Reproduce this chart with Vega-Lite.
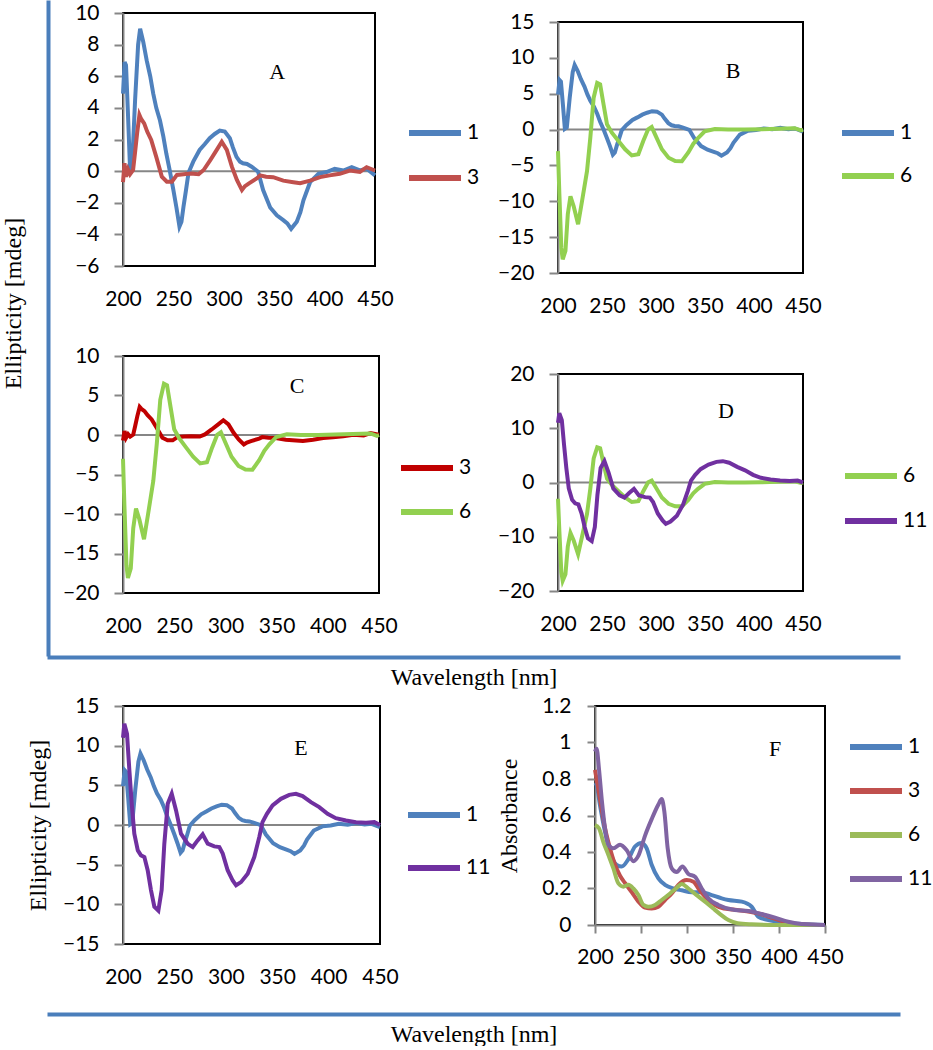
{
"$schema": "https://vega.github.io/schema/vega-lite/v6.json",
"padding": 0,
"background": "white",
"datasets": {
"cd": [
{"c":"1","w":200,"v":4.9},{"c":"1","w":201.6,"v":6.9},{"c":"1","w":203,"v":6.7},{"c":"1","w":205,"v":3.5},{"c":"1","w":207,"v":0.1},{"c":"1","w":209,"v":0.3},{"c":"1","w":212,"v":4.5},{"c":"1","w":215,"v":8.0},{"c":"1","w":217,"v":9.0},{"c":"1","w":220,"v":8.2},{"c":"1","w":223.5,"v":7.0},{"c":"1","w":227,"v":6.0},{"c":"1","w":230,"v":4.9},{"c":"1","w":233,"v":4.0},{"c":"1","w":236.7,"v":3.2},{"c":"1","w":240,"v":2.2},{"c":"1","w":243,"v":1.1},{"c":"1","w":246.5,"v":0.0},{"c":"1","w":250,"v":-1.2},{"c":"1","w":253,"v":-2.3},{"c":"1","w":256,"v":-3.5},{"c":"1","w":258,"v":-3.2},{"c":"1","w":260,"v":-2.25},{"c":"1","w":262.5,"v":-1.2},{"c":"1","w":265,"v":-0.1},{"c":"1","w":269.7,"v":0.6},{"c":"1","w":276,"v":1.34},{"c":"1","w":281,"v":1.7},{"c":"1","w":286,"v":2.08},{"c":"1","w":291,"v":2.35},{"c":"1","w":296,"v":2.56},{"c":"1","w":301,"v":2.5},{"c":"1","w":306,"v":2.08},{"c":"1","w":309,"v":1.5},{"c":"1","w":312.6,"v":0.9},{"c":"1","w":316,"v":0.6},{"c":"1","w":319,"v":0.5},{"c":"1","w":323,"v":0.45},{"c":"1","w":327.6,"v":0.28},{"c":"1","w":334,"v":-0.03},{"c":"1","w":339,"v":-1.2},{"c":"1","w":346,"v":-2.3},{"c":"1","w":352.6,"v":-2.8},{"c":"1","w":359,"v":-3.1},{"c":"1","w":363,"v":-3.3},{"c":"1","w":366.8,"v":-3.65},{"c":"1","w":372.4,"v":-3.2},{"c":"1","w":376,"v":-2.6},{"c":"1","w":379,"v":-1.85},{"c":"1","w":385.6,"v":-0.7},{"c":"1","w":393.9,"v":-0.17},{"c":"1","w":402,"v":-0.06},{"c":"1","w":410,"v":0.15},{"c":"1","w":418.6,"v":0.04},{"c":"1","w":426.9,"v":0.25},{"c":"1","w":435,"v":0.05},{"c":"1","w":441.7,"v":0.15},{"c":"1","w":450,"v":-0.27},
{"c":"3","w":200,"v":-0.7},{"c":"3","w":201.5,"v":0.5},{"c":"3","w":203,"v":-0.35},{"c":"3","w":205,"v":0.1},{"c":"3","w":207,"v":-0.2},{"c":"3","w":210,"v":0.07},{"c":"3","w":212,"v":1.2},{"c":"3","w":214,"v":2.39},{"c":"3","w":216.3,"v":3.55},{"c":"3","w":218,"v":3.3},{"c":"3","w":221,"v":3.02},{"c":"3","w":224,"v":2.5},{"c":"3","w":228,"v":1.97},{"c":"3","w":233,"v":0.9},{"c":"3","w":238.5,"v":-0.35},{"c":"3","w":243.5,"v":-0.67},{"c":"3","w":248.5,"v":-0.67},{"c":"3","w":253.5,"v":-0.24},{"c":"3","w":260,"v":-0.2},{"c":"3","w":266.7,"v":-0.15},{"c":"3","w":275,"v":-0.2},{"c":"3","w":280,"v":0.07},{"c":"3","w":286.6,"v":0.7},{"c":"3","w":293,"v":1.34},{"c":"3","w":298,"v":1.86},{"c":"3","w":303,"v":1.34},{"c":"3","w":308,"v":0.28},{"c":"3","w":313,"v":-0.56},{"c":"3","w":318,"v":-1.2},{"c":"3","w":321,"v":-0.95},{"c":"3","w":325,"v":-0.77},{"c":"3","w":333,"v":-0.45},{"c":"3","w":336,"v":-0.27},{"c":"3","w":342,"v":-0.35},{"c":"3","w":349,"v":-0.38},{"c":"3","w":359,"v":-0.6},{"c":"3","w":369,"v":-0.7},{"c":"3","w":375.7,"v":-0.76},{"c":"3","w":385.6,"v":-0.6},{"c":"3","w":395.5,"v":-0.38},{"c":"3","w":405,"v":-0.27},{"c":"3","w":415,"v":-0.17},{"c":"3","w":425,"v":0.04},{"c":"3","w":435,"v":-0.05},{"c":"3","w":441.7,"v":0.25},{"c":"3","w":450,"v":0.04},
{"c":"6","w":200,"v":-3.0},{"c":"6","w":201.4,"v":-9.0},{"c":"6","w":203.4,"v":-16.5},{"c":"6","w":204.8,"v":-18.1},{"c":"6","w":207.6,"v":-16.9},{"c":"6","w":210,"v":-11.8},{"c":"6","w":212.7,"v":-9.3},{"c":"6","w":216,"v":-10.7},{"c":"6","w":220.5,"v":-13.2},{"c":"6","w":224.5,"v":-10.0},{"c":"6","w":229.6,"v":-5.8},{"c":"6","w":233,"v":-1.1},{"c":"6","w":236.4,"v":4.45},{"c":"6","w":240,"v":6.5},{"c":"6","w":243,"v":6.3},{"c":"6","w":246.5,"v":3.5},{"c":"6","w":250,"v":0.73},{"c":"6","w":255,"v":-0.44},{"c":"6","w":261.7,"v":-1.6},{"c":"6","w":268.5,"v":-2.75},{"c":"6","w":275.3,"v":-3.6},{"c":"6","w":282,"v":-3.45},{"c":"6","w":287,"v":-1.6},{"c":"6","w":292,"v":0.04},{"c":"6","w":295.6,"v":0.36},{"c":"6","w":299,"v":-0.66},{"c":"6","w":306,"v":-2.75},{"c":"6","w":312.8,"v":-3.92},{"c":"6","w":319.6,"v":-4.38},{"c":"6","w":326.4,"v":-4.4},{"c":"6","w":333,"v":-3.2},{"c":"6","w":338,"v":-2.0},{"c":"6","w":342.9,"v":-1.18},{"c":"6","w":349.7,"v":-0.25},{"c":"6","w":360,"v":0.08},{"c":"6","w":373.5,"v":0.0},{"c":"6","w":390.5,"v":0.0},{"c":"6","w":407.5,"v":0.05},{"c":"6","w":424.5,"v":0.12},{"c":"6","w":441.5,"v":0.2},{"c":"6","w":448,"v":-0.1},{"c":"6","w":450,"v":0.0},
{"c":"11","w":200,"v":11.0},{"c":"11","w":201.3,"v":12.77},{"c":"11","w":203.9,"v":11.5},{"c":"11","w":206.2,"v":6.88},{"c":"11","w":208.5,"v":2.68},{"c":"11","w":211,"v":-1.1},{"c":"11","w":214.4,"v":-3.2},{"c":"11","w":217.5,"v":-3.83},{"c":"11","w":220.8,"v":-4.04},{"c":"11","w":224,"v":-5.7},{"c":"11","w":227.2,"v":-8.2},{"c":"11","w":230.5,"v":-10.3},{"c":"11","w":234.4,"v":-10.8},{"c":"11","w":237.6,"v":-8.2},{"c":"11","w":240.2,"v":-2.36},{"c":"11","w":243.5,"v":2.68},{"c":"11","w":247.4,"v":3.95},{"c":"11","w":251.6,"v":1.84},{"c":"11","w":256.4,"v":-1.1},{"c":"11","w":262.9,"v":-2.36},{"c":"11","w":267.8,"v":-2.78},{"c":"11","w":272.6,"v":-1.94},{"c":"11","w":277.5,"v":-1.18},{"c":"11","w":282.4,"v":-2.36},{"c":"11","w":288.8,"v":-2.7},{"c":"11","w":293.7,"v":-2.78},{"c":"11","w":297,"v":-3.6},{"c":"11","w":301.8,"v":-5.7},{"c":"11","w":306.7,"v":-7.0},{"c":"11","w":310,"v":-7.6},{"c":"11","w":314.8,"v":-7.2},{"c":"11","w":321.3,"v":-6.14},{"c":"11","w":327.7,"v":-4.04},{"c":"11","w":332.6,"v":-1.5},{"c":"11","w":335.7,"v":0.36},{"c":"11","w":340,"v":1.4},{"c":"11","w":345.5,"v":2.46},{"c":"11","w":353.6,"v":3.3},{"c":"11","w":361.7,"v":3.8},{"c":"11","w":368.2,"v":3.93},{"c":"11","w":374.7,"v":3.64},{"c":"11","w":382.8,"v":2.88},{"c":"11","w":390.9,"v":2.25},{"c":"11","w":399,"v":1.41},{"c":"11","w":407,"v":0.86},{"c":"11","w":416.9,"v":0.57},{"c":"11","w":426.6,"v":0.36},{"c":"11","w":436.4,"v":0.27},{"c":"11","w":444.5,"v":0.36},{"c":"11","w":450,"v":0.0}
],
"ab": [
{"c":"1","w":200,"a":0.78},{"c":"1","w":201.8,"a":0.766},{"c":"1","w":205.4,"a":0.657},{"c":"1","w":210.9,"a":0.51},{"c":"1","w":216.3,"a":0.40},{"c":"1","w":223.5,"a":0.33},{"c":"1","w":229,"a":0.32},{"c":"1","w":236.2,"a":0.36},{"c":"1","w":243.5,"a":0.43},{"c":"1","w":250.7,"a":0.45},{"c":"1","w":256.2,"a":0.42},{"c":"1","w":261.6,"a":0.33},{"c":"1","w":268.9,"a":0.255},{"c":"1","w":276.1,"a":0.22},{"c":"1","w":285.2,"a":0.20},{"c":"1","w":294.2,"a":0.19},{"c":"1","w":305.1,"a":0.18},{"c":"1","w":316,"a":0.18},{"c":"1","w":326.8,"a":0.164},{"c":"1","w":337.7,"a":0.146},{"c":"1","w":345,"a":0.137},{"c":"1","w":359.5,"a":0.128},{"c":"1","w":370.3,"a":0.10},{"c":"1","w":377.6,"a":0.045},{"c":"1","w":388.5,"a":0.027},{"c":"1","w":406.5,"a":0.014},{"c":"1","w":424.7,"a":0.005},{"c":"1","w":450,"a":0.0},
{"c":"3","w":200,"a":0.85},{"c":"3","w":205.4,"a":0.69},{"c":"3","w":210.9,"a":0.53},{"c":"3","w":216.3,"a":0.42},{"c":"3","w":221.8,"a":0.33},{"c":"3","w":227.2,"a":0.27},{"c":"3","w":232.6,"a":0.23},{"c":"3","w":239.9,"a":0.18},{"c":"3","w":247.2,"a":0.128},{"c":"3","w":254.4,"a":0.095},{"c":"3","w":261.6,"a":0.09},{"c":"3","w":268.9,"a":0.10},{"c":"3","w":276.1,"a":0.137},{"c":"3","w":283.4,"a":0.173},{"c":"3","w":290.6,"a":0.22},{"c":"3","w":299.7,"a":0.246},{"c":"3","w":307,"a":0.237},{"c":"3","w":312.4,"a":0.20},{"c":"3","w":321.4,"a":0.146},{"c":"3","w":330.5,"a":0.11},{"c":"3","w":340,"a":0.09},{"c":"3","w":350,"a":0.085},{"c":"3","w":365,"a":0.075},{"c":"3","w":380,"a":0.06},{"c":"3","w":395,"a":0.035},{"c":"3","w":410,"a":0.012},{"c":"3","w":425,"a":0.003},{"c":"3","w":450,"a":0.0},
{"c":"6","w":200,"a":0.547},{"c":"6","w":204.3,"a":0.53},{"c":"6","w":209,"a":0.456},{"c":"6","w":214.6,"a":0.383},{"c":"6","w":220,"a":0.31},{"c":"6","w":225.4,"a":0.228},{"c":"6","w":230.9,"a":0.21},{"c":"6","w":236.3,"a":0.22},{"c":"6","w":241.7,"a":0.2},{"c":"6","w":247.2,"a":0.164},{"c":"6","w":252.6,"a":0.11},{"c":"6","w":258,"a":0.10},{"c":"6","w":265.3,"a":0.11},{"c":"6","w":272.5,"a":0.137},{"c":"6","w":281.6,"a":0.173},{"c":"6","w":288.8,"a":0.204},{"c":"6","w":294.2,"a":0.225},{"c":"6","w":301.5,"a":0.2},{"c":"6","w":310.5,"a":0.164},{"c":"6","w":319.6,"a":0.128},{"c":"6","w":328.6,"a":0.09},{"c":"6","w":335.9,"a":0.06},{"c":"6","w":345,"a":0.027},{"c":"6","w":355,"a":0.01},{"c":"6","w":370,"a":0.004},{"c":"6","w":400,"a":0.0},{"c":"6","w":450,"a":0.0},
{"c":"11","w":200,"a":0.95},{"c":"11","w":201.8,"a":0.966},{"c":"11","w":204.3,"a":0.857},{"c":"11","w":207.3,"a":0.69},{"c":"11","w":210.9,"a":0.53},{"c":"11","w":214.6,"a":0.44},{"c":"11","w":220,"a":0.42},{"c":"11","w":227.2,"a":0.44},{"c":"11","w":234.5,"a":0.41},{"c":"11","w":241.7,"a":0.35},{"c":"11","w":247.2,"a":0.38},{"c":"11","w":254.4,"a":0.49},{"c":"11","w":261.6,"a":0.58},{"c":"11","w":268.9,"a":0.66},{"c":"11","w":272.5,"a":0.69},{"c":"11","w":275.4,"a":0.62},{"c":"11","w":279,"a":0.42},{"c":"11","w":283.4,"a":0.31},{"c":"11","w":288.8,"a":0.29},{"c":"11","w":295,"a":0.32},{"c":"11","w":301.5,"a":0.28},{"c":"11","w":308.7,"a":0.264},{"c":"11","w":316,"a":0.2},{"c":"11","w":323.2,"a":0.146},{"c":"11","w":334,"a":0.11},{"c":"11","w":352,"a":0.082},{"c":"11","w":366.7,"a":0.077},{"c":"11","w":381,"a":0.06},{"c":"11","w":395.7,"a":0.04},{"c":"11","w":410,"a":0.018},{"c":"11","w":424.6,"a":0.005},{"c":"11","w":450,"a":0.0}
]
},
"config": {
"view": {"stroke": null},
"axis": {"grid": false, "labelFont": "Lato", "labelFontSize": 21, "labelColor": "#000000", "labelFlush": false, "labelOverlap": false, "labelBound": false, "titleFont": "Liberation Serif", "titleFontSize": 24, "titleFontWeight": "normal", "titleColor": "#000000"},
"legend": {"symbolType": "stroke", "symbolSize": 2704, "symbolStrokeWidth": 6, "labelFont": "Lato", "labelFontSize": 21, "labelColor": "#000000", "padding": 0}
},
"columns": 1,
"align": "none",
"spacing": 0,
"resolve": {"scale": {"color": "independent"}, "legend": {"color": "independent"}},
"concat": [
{
"columns": 3, "align": "none", "spacing": 0,
"resolve": {"scale": {"color": "independent"}, "legend": {"color": "independent"}},
"concat": [
{"width": 1, "height": 1, "data": {"values": []}, "mark": {"type": "rule"}, "encoding": {}},
{"width": 13, "height": 656, "data": {"values": []}, "mark": {"type": "rule"},
 "encoding": {"y": {"field": "a", "type": "quantitative", "scale": {"domain": [0, 1]}, "axis": {"title": "Ellipticity [mdeg]", "labels": false, "ticks": false, "tickSize": 0, "domainColor": "#4A7EBB", "domainWidth": 4, "titlePadding": 23, "titleY": 303}}}},
{
"columns": 2, "align": {"row": "none", "column": "each"}, "spacing": {"row": 0, "column": 15},
"resolve": {"scale": {"color": "independent"}, "legend": {"color": "independent"}},
"concat": [
{"width": 1, "height": 1, "data": {"values": []}, "mark": {"type": "rule"}, "encoding": {}},
{"width": 1, "height": 1, "data": {"values": []}, "mark": {"type": "rule"}, "encoding": {}},
{"width": 252, "height": 253, "view": {"stroke": "#000000", "strokeWidth": 2},
 "layer": [
  {"data": {"values": [{}]}, "mark": {"type": "rule", "color": "#868686", "strokeWidth": 2}, "encoding": {"y": {"datum": 0, "type": "quantitative"}}},
  {"data": {"name": "cd"}, "transform": [{"filter": {"field": "c", "oneOf": ["1", "3"]}}],
   "mark": {"type": "line", "strokeWidth": 4},
   "encoding": {
    "x": {"field": "w", "type": "quantitative", "scale": {"domain": [200, 450], "nice": false}, "axis": {"values": [200, 250, 300, 350, 400, 450], "format": "d", "tickCount": 30, "labelOverlap": false, "title": null, "domain": false, "ticks": false, "tickSize": 0, "labelPadding": 22}},
    "y": {"field": "v", "type": "quantitative", "scale": {"domain": [-6, 10], "nice": false}, "axis": {"values": [-6, -4, -2, 0, 2, 4, 6, 8, 10], "format": "d", "tickCount": 30, "labelOverlap": false, "title": null, "domainColor": "#868686", "domainWidth": 2, "tickColor": "#868686", "tickWidth": 2, "tickSize": 9, "labelPadding": 15}},
    "color": {"field": "c", "type": "nominal", "scale": {"domain": ["1", "3"], "range": ["#4F81BD", "#C0504D"]}, "legend": {"title": null, "orient": "none", "legendX": 283, "legendY": 91, "rowPadding": 4, "labelOffset": 3}}
   }},
  {"data": {"values": [{}]}, "mark": {"type": "text", "font": "Liberation Serif", "fontSize": 22, "color": "#000000"}, "encoding": {"x": {"datum": 353}, "y": {"datum": 6.3}, "text": {"value": "A"}}}
 ]},
{"width": 245, "height": 251, "view": {"stroke": "#000000", "strokeWidth": 2},
 "title": {"text": ".", "color": "white", "fontSize": 10, "offset": -1},
 "layer": [
  {"data": {"values": [{}]}, "mark": {"type": "rule", "color": "#868686", "strokeWidth": 2}, "encoding": {"y": {"datum": 0, "type": "quantitative"}}},
  {"data": {"name": "cd"}, "transform": [{"filter": {"field": "c", "oneOf": ["1", "6"]}}],
   "mark": {"type": "line", "strokeWidth": 4},
   "encoding": {
    "x": {"field": "w", "type": "quantitative", "scale": {"domain": [200, 450], "nice": false}, "axis": {"values": [200, 250, 300, 350, 400, 450], "format": "d", "tickCount": 30, "labelOverlap": false, "title": null, "domain": false, "ticks": false, "tickSize": 0, "labelPadding": 22}},
    "y": {"field": "v", "type": "quantitative", "scale": {"domain": [-20, 15], "nice": false}, "axis": {"values": [-20, -15, -10, -5, 0, 5, 10, 15], "format": "d", "tickCount": 30, "labelOverlap": false, "title": null, "domainColor": "#868686", "domainWidth": 2, "tickColor": "#868686", "tickWidth": 2, "tickSize": 9, "labelPadding": 15}},
    "color": {"field": "c", "type": "nominal", "scale": {"domain": ["1", "6"], "range": ["#4F81BD", "#92D050"]}, "legend": {"title": null, "orient": "none", "legendX": 281, "legendY": 82, "rowPadding": 2, "labelOffset": 3}}
   }},
  {"data": {"values": [{}]}, "mark": {"type": "text", "font": "Liberation Serif", "fontSize": 22, "color": "#000000"}, "encoding": {"x": {"datum": 378.6}, "y": {"datum": 8.2}, "text": {"value": "B"}}}
 ]},
{"width": 256, "height": 237, "view": {"stroke": "#000000", "strokeWidth": 2},
 "title": {"text": ".", "color": "white", "fontSize": 10, "offset": 24},
 "layer": [
  {"data": {"values": [{}]}, "mark": {"type": "rule", "color": "#868686", "strokeWidth": 2}, "encoding": {"y": {"datum": 0, "type": "quantitative"}}},
  {"data": {"name": "cd"}, "transform": [{"filter": {"field": "c", "oneOf": ["3", "6"]}}],
   "mark": {"type": "line", "strokeWidth": 4},
   "encoding": {
    "x": {"field": "w", "type": "quantitative", "scale": {"domain": [200, 450], "nice": false}, "axis": {"values": [200, 250, 300, 350, 400, 450], "format": "d", "tickCount": 30, "labelOverlap": false, "title": null, "domain": false, "ticks": false, "tickSize": 0, "labelPadding": 22}},
    "y": {"field": "v", "type": "quantitative", "scale": {"domain": [-20, 10], "nice": false}, "axis": {"values": [-20, -15, -10, -5, 0, 5, 10], "format": "d", "tickCount": 30, "labelOverlap": false, "title": null, "domainColor": "#868686", "domainWidth": 2, "tickColor": "#868686", "tickWidth": 2, "tickSize": 9, "labelPadding": 15}},
    "color": {"field": "c", "type": "nominal", "scale": {"domain": ["3", "6"], "range": ["#C00000", "#92D050"]}, "legend": {"title": null, "orient": "none", "legendX": 275, "legendY": 83, "rowPadding": 3, "labelOffset": 3}}
   }},
  {"data": {"values": [{}]}, "mark": {"type": "text", "font": "Liberation Serif", "fontSize": 22, "color": "#000000"}, "encoding": {"x": {"datum": 370}, "y": {"datum": 6.2}, "text": {"value": "C"}}}
 ]},
{"width": 245, "height": 217, "view": {"stroke": "#000000", "strokeWidth": 2},
 "title": {"text": ".", "color": "white", "fontSize": 10, "offset": 33},
 "layer": [
  {"data": {"values": [{}]}, "mark": {"type": "rule", "color": "#868686", "strokeWidth": 2}, "encoding": {"y": {"datum": 0, "type": "quantitative"}}},
  {"data": {"name": "cd"}, "transform": [{"filter": {"field": "c", "oneOf": ["6", "11"]}}],
   "mark": {"type": "line", "strokeWidth": 4},
   "encoding": {
    "x": {"field": "w", "type": "quantitative", "scale": {"domain": [200, 450], "nice": false}, "axis": {"values": [200, 250, 300, 350, 400, 450], "format": "d", "tickCount": 30, "labelOverlap": false, "title": null, "domain": false, "ticks": false, "tickSize": 0, "labelPadding": 22}},
    "y": {"field": "v", "type": "quantitative", "scale": {"domain": [-20, 20], "nice": false}, "axis": {"values": [-20, -10, 0, 10, 20], "format": "d", "tickCount": 30, "labelOverlap": false, "title": null, "domainColor": "#868686", "domainWidth": 2, "tickColor": "#868686", "tickWidth": 2, "tickSize": 9, "labelPadding": 15}},
    "color": {"field": "c", "type": "nominal", "scale": {"domain": ["6", "11"], "range": ["#92D050", "#7030A0"]}, "legend": {"title": null, "orient": "none", "legendX": 284, "legendY": 73, "rowPadding": 4, "labelOffset": 3}}
   }},
  {"data": {"values": [{}]}, "mark": {"type": "text", "font": "Liberation Serif", "fontSize": 22, "color": "#000000"}, "encoding": {"x": {"datum": 371.4}, "y": {"datum": 13.2}, "text": {"value": "D"}}}
 ]}
]
}
]
},
{
"columns": 2, "align": "none", "spacing": 0,
"concat": [
{"width": 47, "height": 1, "data": {"values": []}, "mark": {"type": "rule"}, "encoding": {}},
{"width": 853, "height": 1, "data": {"values": []}, "mark": {"type": "rule"},
 "encoding": {"x": {"field": "a", "type": "quantitative", "scale": {"domain": [0, 1]}, "axis": {"orient": "bottom", "title": "Wavelength [nm]", "labels": false, "ticks": false, "tickSize": 0, "domainColor": "#4A7EBB", "domainWidth": 4, "titlePadding": 8}}}}
]
},
{
"columns": 3, "align": "none", "spacing": 4,
"resolve": {"scale": {"color": "independent"}, "legend": {"color": "independent"}},
"concat": [
{"width": 21, "height": 1, "data": {"values": []}, "mark": {"type": "rule"}, "encoding": {}},
{"width": 257, "height": 238, "view": {"stroke": "#000000", "strokeWidth": 2},
 "title": {"text": ".", "color": "white", "fontSize": 5, "offset": 0},
 "layer": [
  {"data": {"values": [{}]}, "mark": {"type": "rule", "color": "#868686", "strokeWidth": 2}, "encoding": {"y": {"datum": 0, "type": "quantitative"}}},
  {"data": {"name": "cd"}, "transform": [{"filter": {"field": "c", "oneOf": ["1", "11"]}}],
   "mark": {"type": "line", "strokeWidth": 4},
   "encoding": {
    "x": {"field": "w", "type": "quantitative", "scale": {"domain": [200, 450], "nice": false}, "axis": {"values": [200, 250, 300, 350, 400, 450], "format": "d", "tickCount": 30, "labelOverlap": false, "title": null, "domain": false, "ticks": false, "tickSize": 0, "labelPadding": 22}},
    "y": {"field": "v", "type": "quantitative", "scale": {"domain": [-15, 15], "nice": false}, "axis": {"values": [-15, -10, -5, 0, 5, 10, 15], "format": "d", "tickCount": 30, "labelOverlap": false, "title": "Ellipticity [mdeg]", "titlePadding": 12, "domainColor": "#868686", "domainWidth": 2, "tickColor": "#868686", "tickWidth": 2, "tickSize": 9, "labelPadding": 15}},
    "color": {"field": "c", "type": "nominal", "scale": {"domain": ["1", "11"], "range": ["#4F81BD", "#7030A0"]}, "legend": {"title": null, "orient": "none", "legendX": 282, "legendY": 80, "rowPadding": 12, "labelOffset": 3}}
   }},
  {"data": {"values": [{}]}, "mark": {"type": "text", "font": "Liberation Serif", "fontSize": 22, "color": "#000000"}, "encoding": {"x": {"datum": 373}, "y": {"datum": 9.7}, "text": {"value": "E"}}}
 ]},
{"width": 230, "height": 219, "view": {"stroke": "#000000", "strokeWidth": 2},
 "layer": [
  {"data": {"name": "ab"},
   "mark": {"type": "line", "strokeWidth": 4, "interpolate": "monotone"},
   "encoding": {
    "x": {"field": "w", "type": "quantitative", "scale": {"domain": [200, 450], "nice": false}, "axis": {"values": [200, 250, 300, 350, 400, 450], "format": "d", "tickCount": 30, "labelOverlap": false, "title": null, "domainColor": "#868686", "domainWidth": 2, "tickColor": "#868686", "tickWidth": 2, "tickSize": 8, "labelPadding": 13}},
    "y": {"field": "a", "type": "quantitative", "scale": {"domain": [0, 1.2], "nice": false}, "axis": {"values": [0, 0.2, 0.4, 0.6, 0.8, 1, 1.2], "tickCount": 30, "labelOverlap": false, "format": "~g", "title": "Absorbance", "titlePadding": 20, "domainColor": "#868686", "domainWidth": 2, "tickColor": "#868686", "tickWidth": 2, "tickSize": 8, "labelPadding": 16}},
    "color": {"field": "c", "type": "nominal", "scale": {"domain": ["1", "3", "6", "11"], "range": ["#4F81BD", "#C0504D", "#9BBB59", "#8064A2"]}, "legend": {"title": null, "orient": "none", "legendX": 252, "legendY": 12, "rowPadding": 3, "labelOffset": 3}}
   }},
  {"data": {"values": [{}]}, "mark": {"type": "text", "font": "Liberation Serif", "fontSize": 22, "color": "#000000"}, "encoding": {"x": {"datum": 395.7}, "y": {"datum": 0.964}, "text": {"value": "F"}}}
 ]}
]
},
{
"columns": 2, "align": "none", "spacing": 0,
"concat": [
{"width": 47, "height": 1, "data": {"values": []}, "mark": {"type": "rule"}, "encoding": {}},
{"width": 853, "height": 1, "data": {"values": []}, "mark": {"type": "rule"},
 "title": {"text": ".", "color": "white", "fontSize": 10, "offset": 15},
 "encoding": {"x": {"field": "a", "type": "quantitative", "scale": {"domain": [0, 1]}, "axis": {"orient": "bottom", "title": "Wavelength [nm]", "labels": false, "ticks": false, "tickSize": 0, "domainColor": "#4A7EBB", "domainWidth": 4, "titlePadding": 8}}}}
]
}
]
}
